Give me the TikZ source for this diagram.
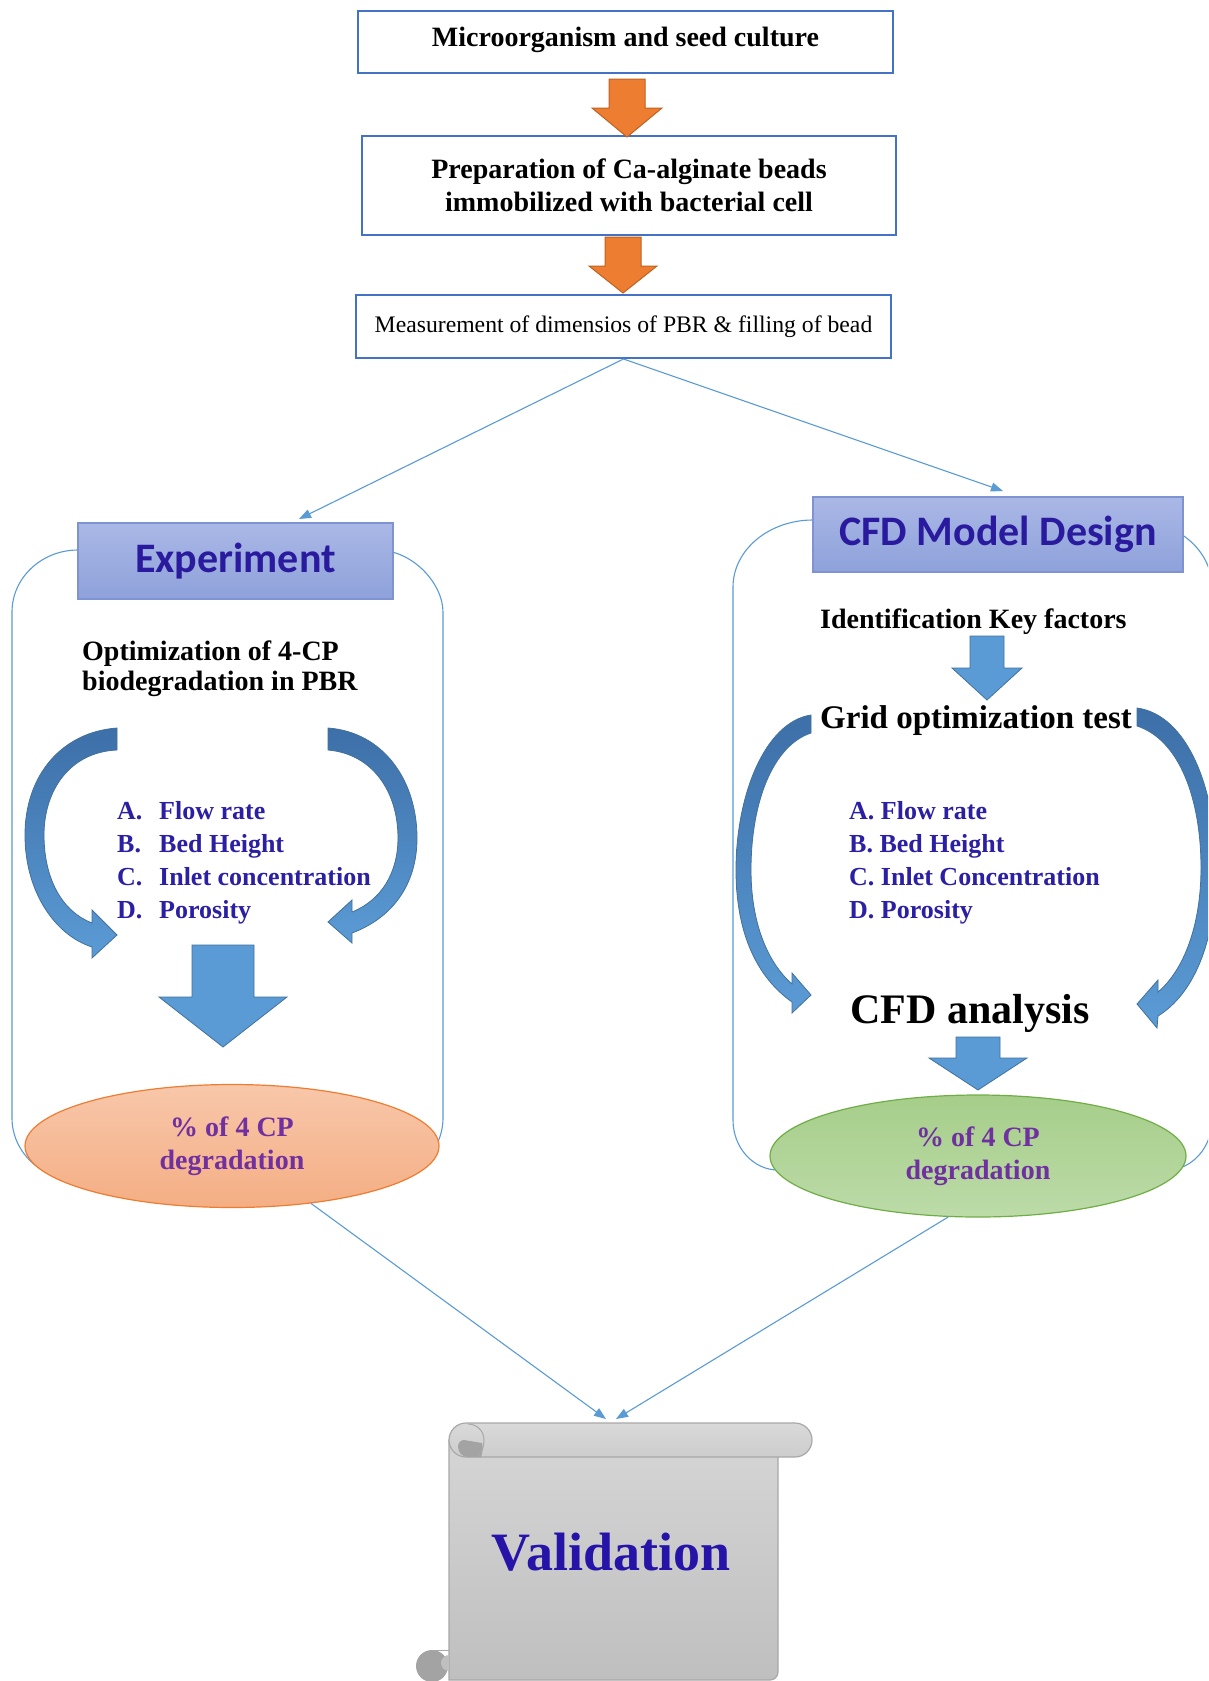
\documentclass[tikz,border=0pt]{standalone}
\usepackage{fontspec}
\setmainfont{Liberation Serif}
\newfontfamily\calibfont{Carlito}
\usetikzlibrary{arrows.meta,shapes.geometric}
\definecolor{boxblue}{HTML}{4472C4}
\definecolor{orng}{HTML}{ED7D31}
\definecolor{orngdark}{HTML}{C0621F}
\definecolor{lineblue}{HTML}{5B9BD5}
\definecolor{arrblue}{HTML}{5B9BD5}
\definecolor{arrdark}{HTML}{41719C}
\definecolor{arrdeep}{HTML}{3D6FA8}
\definecolor{hdrtop}{HTML}{AAB8E6}
\definecolor{hdrbot}{HTML}{8EA1DA}
\definecolor{hdrborder}{HTML}{7F93D3}
\definecolor{hdrtext}{HTML}{2A1B9E}
\definecolor{itemtext}{HTML}{2B1FA3}
\definecolor{purp}{HTML}{7030A0}
\definecolor{peachtop}{HTML}{F8C7AA}
\definecolor{peachbot}{HTML}{F4AE84}
\definecolor{greentop}{HTML}{A6CE8A}
\definecolor{greenbot}{HTML}{BCDBA8}
\definecolor{greenborder}{HTML}{70AD47}
\definecolor{scrolltop}{HTML}{D5D5D5}
\definecolor{scrollbot}{HTML}{BFBFBF}
\definecolor{rolltop}{HTML}{D9D9D9}
\definecolor{rollbot}{HTML}{CDCDCD}
\definecolor{scrollline}{HTML}{A8A8A8}
\definecolor{curl}{HTML}{A3A3A3}
\definecolor{valtext}{HTML}{2613A8}
\newcommand{\mkblockarrow}[7]{%
  \path[#1] (#2-#6,#3) -- (#2+#6,#3) -- (#2+#6,#4) -- (#2+#7,#4) -- (#2,#5) -- (#2-#7,#4) -- (#2-#6,#4) -- cycle;}
\tikzset{
  flowbox/.style={draw=boxblue, line width=2pt, fill=white, inner sep=0pt, align=center,
    font=\fontsize{28}{33}\selectfont\bfseries},
  hdrbox/.style={draw=hdrborder, line width=1.5pt, top color=hdrtop, bottom color=hdrbot,
    inner sep=0pt, text=hdrtext, font=\calibfont\fontsize{42}{50}\selectfont\bfseries},
  orangearrow/.style={fill=orng, draw=orngdark, line width=1pt},
  bluearrow/.style={fill=arrblue, draw=arrdark, line width=0.8pt},
  curvedarrow/.style={top color=arrdeep, bottom color=arrblue, draw=arrdark, line width=0.8pt},
  container/.style={draw=lineblue, line width=1.1pt},
  conn/.style={draw=lineblue, line width=1.1pt, -{Triangle[length=12pt,width=9pt]}},
  itemtxt/.style={inner sep=0pt, text=itemtext, font=\fontsize{26}{31}\selectfont\bfseries},
  blacktxt/.style={inner sep=0pt, font=\fontsize{28}{33}\selectfont\bfseries},
  resultell/.style={ellipse, inner sep=0pt, align=center, text=purp, line width=1.2pt,
    font=\fontsize{28}{33}\selectfont\bfseries},
}
\begin{document}
\begin{tikzpicture}[x=1pt, y=-1pt]
\useasboundingbox (0,0) rectangle (1208,1681);
\clip (0,0) rectangle (1208,1681);
\fill[white] (0,0) rectangle (1208,1681);

% ---------- top chain ----------
\node[flowbox, minimum width=535pt, minimum height=62pt, text height=20pt, text depth=11pt] (b1) at (625.5,42) {Microorganism and seed culture};
\node[flowbox, minimum width=534pt, minimum height=99pt] (b2) at (629,185) {Preparation of Ca-alginate beads\\immobilized with bacterial cell};
\node[flowbox, minimum width=535pt, minimum height=63pt, font=\fontsize{23.7}{28}\selectfont] (b3) at (623.5,326.5) {Measurement of dimensios of PBR \& filling of bead};
\mkblockarrow{orangearrow}{627}{79}{108}{137}{18}{35}
\mkblockarrow{orangearrow}{623}{237}{266}{293}{18}{34}

% ---------- containers ----------
\path[container] (78,550) -- (377,550) .. controls (413.4,550) and (443,584.2) .. (443,612)
  -- (443,1118) .. controls (443,1152.2) and (413.4,1180) .. (377,1180)
  -- (78,1180) .. controls (41.6,1180) and (12,1152.2) .. (12,1118)
  -- (12,612) .. controls (12,577.8) and (41.6,550) .. (78,550) -- cycle;
\path[container] (813,520) -- (1132,520) .. controls (1176.2,520) and (1212,550) .. (1212,587)
  -- (1212,1120) .. controls (1212,1147.6) and (1191.8,1170) .. (1167,1170)
  -- (778,1170) .. controls (753.2,1170) and (733,1147.6) .. (733,1120)
  -- (733,587) .. controls (733,550) and (768.8,520) .. (813,520) -- cycle;

% ---------- headers ----------
\node[hdrbox, minimum width=315pt, minimum height=76pt] (expH) at (235.5,561) {Experiment};
\node[hdrbox, minimum width=370pt, minimum height=75pt] (cfdH) at (998,534.5) {CFD Model Design};

% ---------- connectors from top ----------
\coordinate (expIn) at (299,519);
\coordinate (cfdIn) at (1003,491);
\draw[conn] (b3.south) -- (expIn);
\draw[conn] (b3.south) -- (cfdIn);

% ---------- left panel ----------
\node[blacktxt, anchor=base west] (opt1) at (82,660) {Optimization of 4-CP};
\node[blacktxt, anchor=base west] (opt2) at (82,690) {biodegradation in PBR};
\foreach \l/\t [count=\i] in {A./Flow rate, B./Bed Height, C./Inlet concentration, D./Porosity}{
  \node[itemtxt, anchor=base west] (lk\i) at (117,785.7+33.3*\i) {\l};
  \node[itemtxt, anchor=base west] (lt\i) at (159,785.7+33.3*\i) {\t};
}
\path[curvedarrow] (117,728) .. controls (62,732) and (25,775) .. (25,835)
  .. controls (25,892) and (55,935) .. (92,947) -- (92,958) -- (117,935) -- (92,910) -- (92,923)
  .. controls (63,912) and (44,880) .. (44,835) .. controls (44,790) and (70,752) .. (117,750) -- cycle;
\path[curvedarrow] (328,728) .. controls (383,732) and (417,780) .. (417,838)
  .. controls (417,885) and (392,918) .. (352,933) -- (352,943) -- (328,922) -- (352,900) -- (352,912)
  .. controls (382,900) and (398,872) .. (398,838) .. controls (398,792) and (373,754) .. (328,750) -- cycle;
\mkblockarrow{bluearrow}{223}{945}{997}{1047}{31}{64}

% ---------- right panel ----------
\node[blacktxt, anchor=base west] (idf) at (820,628) {Identification Key factors};
\mkblockarrow{bluearrow}{987}{636}{668}{700}{17}{35}
\node[inner sep=0pt, anchor=base west, font=\fontsize{33}{38}\selectfont\bfseries] (grid) at (820,728) {Grid optimization test};
\foreach \t [count=\i] in {A. Flow rate, B. Bed Height, C. Inlet Concentration, D. Porosity}{
  \node[itemtxt, anchor=base west] (rt\i) at (849,785.7+33.3*\i) {\t};
}
\path[curvedarrow] (811,715) .. controls (765,722) and (736,795) .. (736,870)
  .. controls (736,935) and (758,978) .. (792,1002) -- (792,1013) -- (811,995) -- (792,973) -- (792,984)
  .. controls (767,962) and (751,922) .. (751,870) .. controls (751,800) and (774,745) .. (811,733) -- cycle;
\path[curvedarrow] (1137,708) .. controls (1188,715) and (1216,790) .. (1216,868)
  .. controls (1216,945) and (1192,995) .. (1158,1016) -- (1157,1028) -- (1137,1004) -- (1158,980) -- (1158,992)
  .. controls (1184,970) and (1201,925) .. (1201,868) .. controls (1201,800) and (1180,740) .. (1137,726) -- cycle;
\node[inner sep=0pt, anchor=base, font=\fontsize{42}{48}\selectfont\bfseries] (cfda) at (970,1023) {CFD analysis};
\mkblockarrow{bluearrow}{978}{1037}{1058}{1090}{22}{49}

% ---------- result ellipses ----------
\node[resultell, minimum width=414pt, minimum height=123pt, top color=peachtop, bottom color=peachbot, draw=orng] (ellL) at (232,1146) {\% of 4 CP\\degradation};
\node[resultell, minimum width=416pt, minimum height=122pt, top color=greentop, bottom color=greenbot, draw=greenborder] (ellR) at (978,1156) {\% of 4 CP\\degradation};

% ---------- validation scroll ----------
\fill[curl] (432,1666) circle[radius=16pt];
\path[top color=scrolltop, bottom color=scrollbot, draw=scrollline, line width=1.2pt]
  (449,1440) -- (449,1680) -- (770,1680) .. controls (774.4,1680) and (778,1676.4) .. (778,1672) -- (778,1440) -- cycle;
\path[fill=scrollbot] (449,1655) .. controls (444.6,1655) and (441,1658.6) .. (441,1663)
  .. controls (441,1667.4) and (444.6,1671) .. (449,1671) -- cycle;
\draw[scrollline, line width=1pt] (432,1650) -- (449,1650);
\path[top color=rolltop, bottom color=rollbot, draw=scrollline, line width=1.2pt]
  (466,1423) -- (795,1423) .. controls (804.4,1423) and (812,1430.6) .. (812,1440)
  .. controls (812,1449.4) and (804.4,1457) .. (795,1457) -- (466,1457)
  .. controls (456.6,1457) and (449,1449.4) .. (449,1440) .. controls (449,1430.6) and (456.6,1423) .. (466,1423) -- cycle;
\fill[curl] (458,1447) .. controls (458,1452.5) and (462.5,1457) .. (468,1457) -- (481,1457)
  .. controls (483,1452) and (483,1447) .. (482,1443) -- (464,1440)
  .. controls (460.5,1440) and (458,1443) .. (458,1447) -- cycle;
\draw[scrollline, line width=1pt] (468,1424) .. controls (477,1424) and (484,1431) .. (484,1440)
  .. controls (484,1447) and (482,1452) .. (478,1456);
\node[inner sep=0pt, anchor=base, text=valtext, font=\fontsize{54}{60}\selectfont\bfseries] (val) at (611,1570) {Validation};
\coordinate (valL) at (606,1419);
\coordinate (valR) at (616,1419);
\draw[conn] (ellL.-36) -- (valL);
\draw[conn] (ellR.-116) -- (valR);
\end{tikzpicture}
\end{document}
